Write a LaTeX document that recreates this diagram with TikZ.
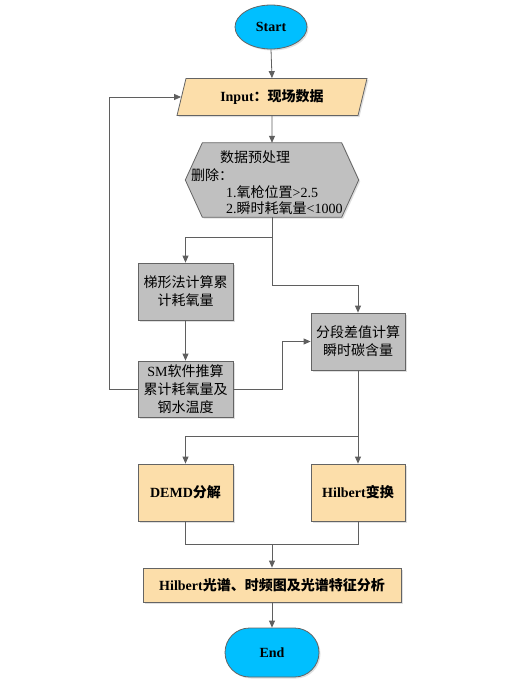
\documentclass[tikz,border=0pt]{standalone}
\usepackage{fontspec}
\setmainfont{Liberation Serif}
\newfontfamily\cjk{Noto Sans CJK SC}
\usetikzlibrary{shapes.geometric,shadows,arrows.meta,calc}
\definecolor{cyanfill}{RGB}{0,191,255}
\definecolor{orangefill}{RGB}{252,222,170}
\definecolor{grayfill}{RGB}{192,192,192}
\definecolor{edgec}{RGB}{100,100,100}
\definecolor{linec}{RGB}{95,95,95}
\newcommand{\cj}[1]{{\cjk #1}}
\begin{document}
\begin{tikzpicture}[x=1pt,y=-1pt,
  base/.style={draw=edgec, line width=0.8pt, drop shadow={shadow xshift=1.5pt,shadow yshift=-1.5pt,fill=black!25}, inner sep=0pt, align=center, text=black},
  term/.style={base, fill=cyanfill, font=\fontsize{14}{17}\selectfont\bfseries},
  obox/.style={base, rectangle, fill=orangefill, font=\fontsize{14}{17}\selectfont\bfseries},
  gbox/.style={base, rectangle, fill=grayfill, font=\fontsize{14}{18}\selectfont},
  plain/.style={inner sep=0pt, text=black, font=\fontsize{14}{16}\selectfont},
  arr/.style={draw=linec, line width=0.8pt, -{Triangle[length=7pt,width=6pt]}},
  ln/.style={draw=linec, line width=0.8pt}
]
\useasboundingbox (0,0) rectangle (509,686);

\node[term, ellipse, minimum width=72pt, minimum height=44pt] (start) at (271,27) {Start};
\node[obox, trapezium, trapezium left angle=59, trapezium right angle=121, trapezium stretches body, minimum width=190pt, minimum height=37pt] (input) at (272,97) {Input\cj{：现场数据}};

% preprocessing hexagon
\node[minimum width=173pt, minimum height=74pt, inner sep=0pt] (prep) at (272,180) {};
\draw[draw=edgec, line width=0.8pt, fill=grayfill, drop shadow={shadow xshift=1.5pt,shadow yshift=-1.5pt,fill=black!25}]
  (prep.west) -- ($(prep.north west)+(17,0)$) -- ($(prep.north east)+(-17,0)$) -- (prep.east)
  -- ($(prep.south east)+(-17,0)$) -- ($(prep.south west)+(17,0)$) -- cycle;
\node[plain] (p1) at (255,157) {\cj{数据预处理}};
\node[plain, anchor=west] (p2) at (191,175) {\cj{删除：}};
\node[plain, anchor=west] (p3) at (226,192) {1.\cj{氧枪位置}>2.5};
\node[plain, anchor=west] (p4) at (226,208) {2.\cj{瞬时耗氧量}<1000};

\node[gbox, minimum width=95pt, minimum height=57pt] (b1) at (185.5,291.5) {\cj{梯形法计算累}\\\cj{计耗氧量}};
\node[gbox, minimum width=95pt, minimum height=56pt] (sm) at (185.5,389) {SM\cj{软件推算}\\\cj{累计耗氧量及}\\\cj{钢水温度}};
\node[gbox, minimum width=94pt, minimum height=57pt] (b3) at (358,341.5) {\cj{分段差值计算}\\\cj{瞬时碳含量}};

\node[obox, minimum width=95pt, minimum height=57pt] (demd) at (185.5,492.5) {DEMD\cj{分解}};
\node[obox, minimum width=94pt, minimum height=57pt] (hil) at (358,492.5) {Hilbert\cj{变换}};
\node[obox, minimum width=258pt, minimum height=34pt] (ana) at (272,585) {Hilbert\cj{光谱、时频图及光谱特征分析}};
\node[term, rectangle, rounded corners=24.5pt, minimum width=94pt, minimum height=49pt] (end) at (272,652.5) {End};

% connectors
\draw[arr] (start.south) -- (input.north);
\draw[arr] (input.south) -- (prep.north);
\draw[arr] (sm.west) -- ++(-28,0) |- (input.west);
\draw[arr] (prep.south) -- (prep.south |- 0,237) -| (b1.north);
\draw[arr] (prep.south) -- (prep.south |- 0,285) -| (b3.north);
\draw[arr] (b1.south) -- (sm.north);
\draw[arr] (sm.east) -- ++(49,0) |- (b3.west);
\draw[arr] (b3.south) -- (b3.south |- 0,436) -| (demd.north);
\draw[arr] (b3.south) -- (hil.north);
\draw[ln] (demd.south) -- (demd.south |- 0,544) -| (hil.south);
\draw[arr] (ana.north |- 0,544) -- (ana.north);
\draw[arr] (ana.south) -- (end.north);
\end{tikzpicture}
\end{document}
